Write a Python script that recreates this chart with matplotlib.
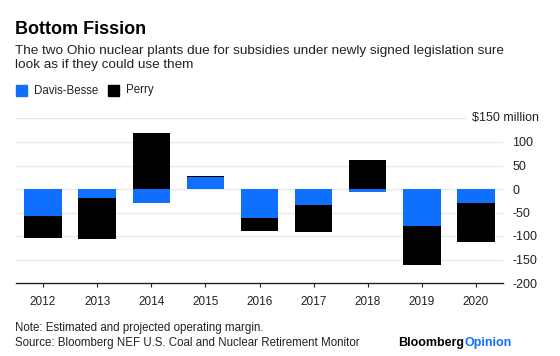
import numpy as np
import matplotlib
matplotlib.use("Agg")
import matplotlib.pyplot as plt
from matplotlib.patches import Rectangle

plt.rcParams['font.family'] = ['Liberation Sans', 'DejaVu Sans']

years = ["2012", "2013", "2014", "2015", "2016", "2017", "2018", "2019", "2020"]
davis_besse = np.array([-58, -20, -30, 26, -62, -35, -6, -78, -29])
perry = np.array([-47, -87, 119, 2, -27, -56, 61, -84, -84])
yticks = [-200, -150, -100, -50, 0, 50, 100, 150]

BLUE = "#0f6fff"
W, H = 560, 356

fig = plt.figure(figsize=(W / 100, H / 100), dpi=100)
ax = fig.add_axes([16 / W, 1 - 283 / H, (503 - 16) / W, (283 - 118.5) / H])

x = np.arange(len(years))
# perry stacks on top of davis-besse only when both go the same way
same = np.sign(davis_besse) == np.sign(perry)
perry_bottom = np.where(same, davis_besse, 0)

ax.bar(x, davis_besse, width=0.69, color=BLUE, zorder=3)
ax.bar(x, perry, width=0.69, bottom=perry_bottom, color="black", zorder=3)

ax.set_xlim(-0.5, len(years) - 0.5)
ax.set_ylim(-200, 150)

for v in yticks:
    if v == -200:
        continue
    xmax = (465 - 16) / (503 - 16) if v == 150 else 1
    ax.axhline(v, xmax=xmax, color="#e9e9e9", lw=1, zorder=1)

for s in ["top", "left", "right"]:
    ax.spines[s].set_visible(False)
ax.spines["bottom"].set_color("#222222")
ax.spines["bottom"].set_linewidth(1)

ax.set_xticks(x)
ax.set_xticklabels(years, fontsize=8.5, color="#222222")
ax.tick_params(axis="x", length=3, width=0.8, color="#222222", pad=6.5)

ax.yaxis.tick_right()
ax.set_yticks(yticks)
ax.set_yticklabels([str(v) if v != 150 else "" for v in yticks],
                   fontsize=9, color="#222222")
ax.tick_params(axis="y", length=0, pad=6.5)
fig.text(539 / W, 1 - 118.5 / H, "$150 million", ha="right", va="center",
         fontsize=9, color="#222222")

# header
fig.text(15 / W, 1 - 29 / H, "Bottom Fission", fontsize=13, fontweight="bold",
         va="center", color="black")
fig.text(15 / W, 1 - 51 / H,
         "The two Ohio nuclear plants due for subsidies under newly signed legislation sure",
         fontsize=9.7, va="center", color="#222222")
fig.text(15 / W, 1 - 65 / H, "look as if they could use them",
         fontsize=9.7, va="center", color="#222222")

# legend
fig.patches.append(Rectangle((16 / W, 1 - 96 / H), 11 / W, 11 / H,
                             transform=fig.transFigure, color=BLUE))
fig.text(34 / W, 1 - 90.5 / H, "Davis-Besse", fontsize=8.3, va="center", color="#222222")
fig.patches.append(Rectangle((108 / W, 1 - 96 / H), 11 / W, 11 / H,
                             transform=fig.transFigure, color="black"))
fig.text(126 / W, 1 - 90.5 / H, "Perry", fontsize=8.3, va="center", color="#222222")

# footer
fig.text(15 / W, 1 - 328 / H, "Note: Estimated and projected operating margin.",
         fontsize=8.3, va="center", color="#222222")
fig.text(15 / W, 1 - 343 / H, "Source: Bloomberg NEF U.S. Coal and Nuclear Retirement Monitor",
         fontsize=8.3, va="center", color="#222222")
t = fig.text(398 / W, 1 - 343 / H, "Bloomberg", fontsize=9, fontweight="bold",
             va="center", color="black")
fig.canvas.draw()
bb = t.get_window_extent()
fig.text(bb.x1 / W, 1 - 343 / H, "Opinion", fontsize=9, fontweight="bold",
         va="center", color=BLUE)

fig.savefig("out.png", dpi=100)
